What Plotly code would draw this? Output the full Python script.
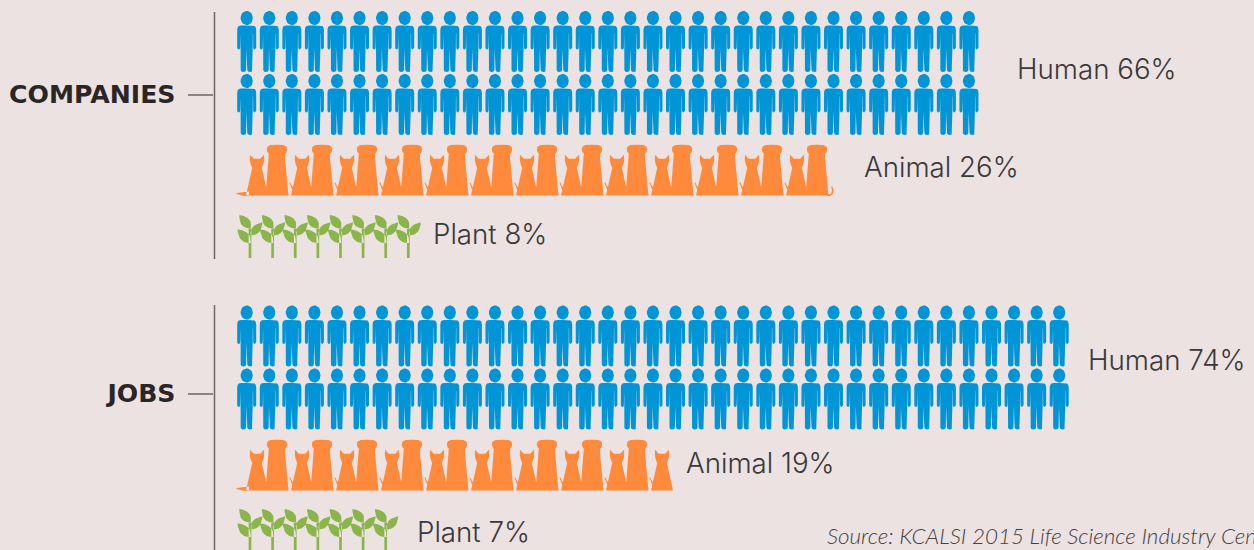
import numpy as np
import plotly.graph_objects as go

# ---- data -----------------------------------------------------------------
groups = ["COMPANIES", "JOBS"]
kinds = ["Human", "Animal", "Plant"]
human_pct = [66, 74]
animal_pct = [26, 19]
plant_pct = [8, 7]
source_text = "Source: KCALSI 2015 Life Science Industry Census"

# ---- styles / layout ------------------------------------------------------
BG = "#ece2e1"
BLUE = "#0095d6"
ORANGE = "#ff8a3c"
GREEN = "#8ab54b"
LINE = "#6e6668"
DARK = "#2b2626"
TEXT = "#3b3838"
W, H = 1254, 550

GROUP_LAYOUT = [
    dict(human_tops=[11, 74], animal_base=195.5, plant_top=215, axis=(12, 259), tick=95,
         label_xy=[(1017, 70), (864, 168), (433, 235)]),
    dict(human_tops=[305.5, 368.5], animal_base=490.5, plant_top=509, axis=(305, 550), tick=394,
         label_xy=[(1088, 361), (686, 464), (417, 533)]),
]
HUMAN_X0, HUMAN_DX = 246.7, 22.57
CAT_X0, DOG_X0, PAIR_DX = 257, 277, 45
PLANT_X0, PLANT_DX = 250, 22.62


def mirror(half):
    return list(half) + [(-x, y) for x, y in reversed(half)]


def ellipse(cx, cy, rx, ry, n=24):
    t = np.linspace(0, 2 * np.pi, n)
    return list(zip(cx + rx * np.cos(t), cy + ry * np.sin(t)))


def leaf(base, tip, w):
    b, t = np.array(base, float), np.array(tip, float)
    d = t - b
    nrm = np.array([-d[1], d[0]]) / np.hypot(*d)
    s = np.linspace(0, 1, 12)[:, None]
    mid = b + d * 0.42
    up = (1 - s) ** 2 * b + 2 * s * (1 - s) * (mid + nrm * w) + s ** 2 * t
    dn = (1 - s) ** 2 * b + 2 * s * (1 - s) * (mid - nrm * w) + s ** 2 * t
    return [tuple(p) for p in up] + [tuple(p) for p in dn[::-1]]


HUMAN = [
    ellipse(0, 7, 6.1, 7.1),
    mirror([(0, 14.5), (5.5, 14.5), (7.9, 15.1), (9.1, 16.6), (9.5, 19), (9.5, 36.8), (9.0, 38),
            (8.0, 38.5), (7.0, 38), (6.5, 36.8), (6.4, 22.5), (6.15, 22.5), (6.0, 37), (6.0, 59),
            (5.3, 60.5), (3.5, 61), (1.4, 60.5), (0.6, 59), (0.3, 37.5)]),
]
DOG = [mirror([(0, -50.7), (6.5, -50.5), (9.3, -49), (10.2, -46.5), (9.6, -43.5), (8.2, -42),
               (8.0, -38), (8.6, -30), (9.6, -20), (10.6, -10), (11.2, -3), (11.7, 0)])]
CAT = [mirror([(0, -36.8), (3.2, -36.8), (7, -40.7), (7.2, -35.5), (6.4, -31.5), (4.8, -27.5), (6, -22.5),
               (8.6, -12), (10, -5), (10.8, -1), (11, 0)])]
CAT_TAIL = [[(-8, -1), (-10, -6), (-11.6, -9), (-12.6, -13), (-11.4, -12.8), (-10.4, -10), (-8, -7)]]
CAT_FLOOR_TAIL = [[(-8, -4), (-14, -3), (-20.5, -2.6), (-20.5, -1.4), (-15, 0), (-8, 0.8)]]
DOG_TAIL = [[(11, -1), (14, -1.5), (15, -5), (14.2, -9), (15.4, -9), (16.8, -5), (15.5, -1), (13, 0.6), (10, 0.6)]]
PLANT = [
    [(-1.35, 13), (1.35, 13), (1.35, 43), (-1.35, 43)],
    leaf((0.8, 13.5), (-10.7, 0), 9.2),
    leaf((0.8, 20.5), (12.5, 7.2), 8),
    leaf((0.8, 28), (-12.5, 14.5), 9.2),
]


def place(polys, x, y):
    xs, ys = [], []
    for p in polys:
        xs += [x + a for a, _ in p] + [x + p[0][0], None]
        ys += [y + b for _, b in p] + [y + p[0][1], None]
    return xs, ys


def shape_trace(xs, ys, color):
    return go.Scatter(x=xs, y=ys, mode="lines", fill="toself", fillcolor=color,
                      line=dict(width=0, color=color), hoverinfo="skip", showlegend=False)


fig = go.Figure()
for g, lay in enumerate(GROUP_LAYOUT):
    xs, ys = [], []
    n_row = human_pct[g] // 2
    for top in lay["human_tops"]:
        for i in range(n_row):
            a, b = place(HUMAN, HUMAN_X0 + i * HUMAN_DX, top)
            xs += a; ys += b
    fig.add_trace(shape_trace(xs, ys, BLUE))

    xs, ys = [], []
    base = lay["animal_base"]
    n = animal_pct[g]
    for i in range(n):
        k = i // 2
        if i % 2 == 0:
            cx = CAT_X0 + k * PAIR_DX
            polys = CAT + (CAT_FLOOR_TAIL if k == 0 else CAT_TAIL)
        else:
            cx = DOG_X0 + k * PAIR_DX
            polys = DOG + (DOG_TAIL if i == n - 1 else [])
        a, b = place(polys, cx, base)
        xs += a; ys += b
    fig.add_trace(shape_trace(xs, ys, ORANGE))

    xs, ys = [], []
    for i in range(plant_pct[g]):
        a, b = place(PLANT, PLANT_X0 + i * PLANT_DX, lay["plant_top"])
        xs += a; ys += b
    fig.add_trace(shape_trace(xs, ys, GREEN))

    fig.add_shape(type="line", x0=214.5, x1=214.5, y0=lay["axis"][0], y1=lay["axis"][1],
                  line=dict(color=LINE, width=1.5))
    fig.add_shape(type="line", x0=188, x1=213, y0=lay["tick"], y1=lay["tick"],
                  line=dict(color=DARK, width=1))
    fig.add_trace(go.Scatter(x=[175.5], y=[lay["tick"] + 1.5], mode="text", text=[groups[g]],
                             textposition="middle left", hoverinfo="skip", showlegend=False,
                             textfont=dict(family="DejaVu Sans", size=25.2, color=DARK, weight=700)))
    vals = [human_pct[g], animal_pct[g], plant_pct[g]]
    for (lx, ly), kind, v in zip(lay["label_xy"], kinds, vals):
        fig.add_trace(go.Scatter(x=[lx], y=[ly + 2], mode="text", text=[f"{kind} {v}%"],
                                 textposition="middle right", hoverinfo="skip", showlegend=False,
                                 textfont=dict(family="Inter", size=27.7, color=TEXT, weight=300)))

fig.add_trace(go.Scatter(x=[827], y=[538], mode="text", text=[source_text],
                         textposition="middle right", hoverinfo="skip", showlegend=False,
                         textfont=dict(family="Lato", size=22.4, color="#444142", style="italic", weight=300)))

fig.update_layout(width=W, height=H, margin=dict(l=0, r=0, t=0, b=0), paper_bgcolor=BG, plot_bgcolor=BG,
                  showlegend=False,
                  xaxis=dict(range=[0, W], visible=False, fixedrange=True),
                  yaxis=dict(range=[H, 0], visible=False, fixedrange=True))
fig.write_html("out.html", config=dict(displayModeBar=False),
               post_script="document.body.style.margin='0';document.body.style.background='%s';" % BG)
